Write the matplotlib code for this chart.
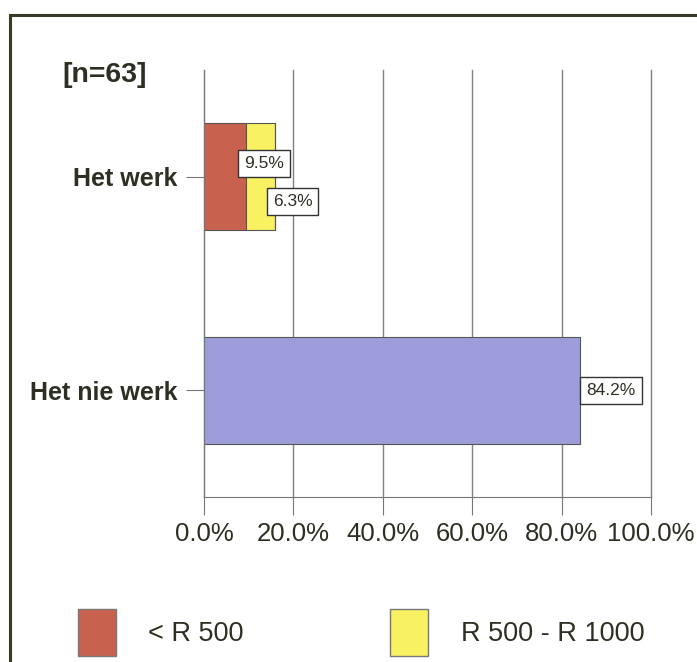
import matplotlib.pyplot as plt
from matplotlib.patches import Patch, Rectangle

plt.rcParams['font.family'] = ['Liberation Sans', 'DejaVu Sans']

# Data
categories = ['Het werk', 'Het nie werk']
series_names = ['< R 500', 'R 500 - R 1000', 'R 1000+']
low = [9.5, 0.0]
mid = [6.3, 0.0]
high = [0.0, 84.2]
colors = ['#c8624f', '#f8f263', '#9e9ddc']
xticks = [0, 20, 40, 60, 80, 100]
xtick_labels = ['0.0%', '20.0%', '40.0%', '60.0%', '80.0%', '100.0%']

text_col = '#2e2e22'

fig = plt.figure(figsize=(6.97, 6.62), dpi=100)
ax = fig.add_axes([204 / 697, 1 - 497 / 662, 447 / 697, 427 / 662])

y = range(len(categories))
ax.barh(y, low, height=0.5, color=colors[0], edgecolor='#555555', linewidth=0.8)
ax.barh(y, mid, left=low, height=0.5, color=colors[1], edgecolor='#555555', linewidth=0.8)
left3 = [a + b for a, b in zip(low, mid)]
ax.barh(y, high, left=left3, height=0.5, color=colors[2], edgecolor='#555555', linewidth=0.8)

ax.set_xlim(0, 100)
ax.set_ylim(1.5, -0.5)
ax.set_xticks(xticks)
ax.set_xticklabels(xtick_labels, fontsize=18.5, color=text_col)
ax.set_yticks(list(y))
ax.set_yticklabels(categories, fontsize=18, fontweight='bold', color=text_col)
ax.tick_params(axis='x', length=13, color='#777777', pad=5)
ax.tick_params(axis='y', length=13, color='#777777', pad=6)
ax.grid(axis='x', color='#808080', linewidth=1)
for gl in ax.xaxis.get_gridlines():
    gl.set_clip_on(False)
ax.set_axisbelow(True)
for s in ['top', 'right']:
    ax.spines[s].set_visible(False)
for s in ['left', 'bottom']:
    ax.spines[s].set_color('#777777')

# Data labels
box = dict(boxstyle='square,pad=0.35', facecolor='white', edgecolor='#333333', linewidth=1)
label_specs = [
    (0, low[0], f'{low[0]:.1f}%', (-2, 13)),
    (0, low[0] + mid[0], f'{mid[0]:.1f}%', (-2, -25)),
    (1, left3[1] + high[1], f'{high[1]:.1f}%', (6, 0)),
]
for yi, xe, txt, off in label_specs:
    ax.annotate(txt, xy=(xe, yi), xytext=off, textcoords='offset pixels',
                ha='left', va='center', fontsize=12.5, color=text_col, bbox=box)

fig.text(62 / 697, 1 - 75 / 662, '[n=63]', fontsize=20.5, fontweight='bold',
         color=text_col, ha='left', va='center')

# outer frame
fig.patches.append(Rectangle((10 / 697, -0.2), 1.2, 1 - 15 / 662 + 0.2,
                             transform=fig.transFigure, fill=False,
                             edgecolor='#3a3a28', linewidth=2.2))

handles = [Patch(facecolor=colors[0], edgecolor='#777777'),
           Patch(facecolor=colors[1], edgecolor='#777777')]
fig.legend(handles, series_names[:2], loc='upper left',
           bbox_to_anchor=(78 / 697, 1 - 609 / 662), bbox_transform=fig.transFigure,
           ncol=2, frameon=False, fontsize=19.5, borderpad=0, borderaxespad=0,
           handlelength=1.4, handleheight=2.3, handletextpad=1.2,
           columnspacing=5.4, labelcolor=text_col)

fig.savefig('out.png', dpi=100)
